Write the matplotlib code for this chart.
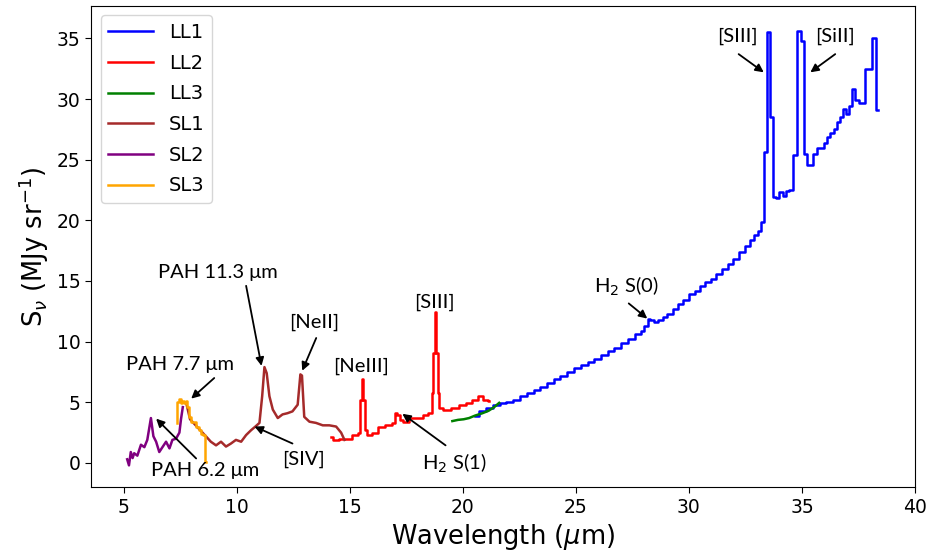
import matplotlib
matplotlib.use('Agg')
import matplotlib.pyplot as plt

# IRS spectrum, one list pair per module (wavelength in um, S_nu in MJy/sr)
sl2_wave = [5.16, 5.24, 5.32, 5.40, 5.47, 5.61, 5.77, 5.92, 6.05, 6.21, 6.32, 6.44, 6.58, 6.72,
            6.88, 7.03, 7.16, 7.32, 7.47, 7.54, 7.62]
sl2_flux = [0.3, -0.2, 0.9, 0.4, 0.8, 0.6, 1.5, 1.3, 1.9, 3.7, 2.2, 1.75, 0.9, 1.3,
            1.75, 1.2, 1.9, 2.0, 2.5, 3.6, 4.6]

sl3_wave = [7.37, 7.40, 7.49, 7.56, 7.64, 7.72, 7.79, 7.86, 7.94, 8.04, 8.14, 8.27, 8.39, 8.49,
            8.58, 8.64]
sl3_flux = [3.3, 5.0, 5.3, 4.9, 5.1, 4.9, 5.1, 4.6, 3.8, 3.4, 3.4, 3.0, 2.7, 2.4, 2.3, 0.1]

sl1_wave = [7.79, 7.94, 8.09, 8.24, 8.39, 8.54, 8.69, 8.86, 9.09, 9.31, 9.53, 9.75, 9.97, 10.2,
            10.42, 10.64, 10.83, 11.01, 11.13, 11.23, 11.33, 11.45, 11.6, 11.82, 12.03, 12.25,
            12.47, 12.7, 12.82, 12.89, 12.99, 13.22, 13.51, 13.81, 14.1, 14.4, 14.62, 14.77]
sl1_flux = [4.8, 3.6, 3.3, 3.0, 2.7, 2.4, 2.1, 1.75, 1.45, 1.75, 1.35, 1.6, 1.9, 1.75,
            2.3, 2.7, 3.0, 3.3, 5.5, 7.9, 7.4, 5.5, 4.4, 3.7, 4.0, 4.1,
            4.25, 4.8, 7.3, 7.2, 3.8, 3.4, 3.3, 3.1, 3.1, 3.0, 2.5, 1.9]

ll2_wave = [14.17, 14.39, 14.68, 14.98, 15.26, 15.44, 15.51, 15.56, 15.63, 15.71, 15.86, 16.15,
            16.37, 16.74, 16.96, 17.04, 17.18, 17.26, 17.48, 17.77, 18.07, 18.37, 18.59, 18.65,
            18.73, 18.8, 18.87, 18.92, 18.98, 19.24, 19.69, 19.98, 20.28, 20.57, 20.8, 21.02, 21.17]
ll2_flux = [2.1, 1.9, 2.0, 2.0, 2.3, 2.45, 5.2, 6.9, 5.2, 2.7, 2.3, 2.45,
            3.0, 3.15, 3.3, 4.1, 3.95, 3.55, 3.4, 3.7, 3.7, 3.95, 4.1, 5.8,
            9.1, 12.45, 9.1, 5.8, 4.5, 4.4, 4.5, 4.8, 4.95, 5.2, 5.5, 5.2, 5.1]

ll3_wave = [19.54, 19.79, 20.04, 20.28, 20.54, 20.87, 21.14, 21.39, 21.61]
ll3_flux = [3.45, 3.55, 3.6, 3.7, 3.9, 4.1, 4.3, 4.6, 4.95]

ll1_wave = [20.54, 20.89, 21.19, 21.48, 21.78, 22.08, 22.38, 22.68, 22.98, 23.28, 23.58, 23.87,
            24.17, 24.47, 24.77, 25.07, 25.37, 25.67, 25.97, 26.26, 26.56, 26.86, 27.16, 27.46,
            27.76, 27.96, 28.11, 28.23, 28.36, 28.56, 28.75, 28.95, 29.15, 29.4, 29.65, 29.85,
            30.15, 30.35, 30.6, 30.85, 31.1, 31.34, 31.59, 31.84, 32.09, 32.34, 32.59, 32.79,
            32.99, 33.14, 33.26, 33.38, 33.52, 33.66, 33.79, 33.93, 34.07, 34.21, 34.35, 34.49,
            34.68, 34.9, 35.02, 35.13, 35.28, 35.43, 35.58, 35.73, 35.88, 36.03, 36.18, 36.33,
            36.48, 36.63, 36.75, 36.87, 37.01, 37.15, 37.29, 37.43, 37.57, 37.71, 37.83, 37.98,
            38.18, 38.35]
ll1_flux = [3.9, 4.3, 4.5, 4.8, 4.95, 5.0, 5.2, 5.5, 5.8, 6.05, 6.3, 6.6,
            6.9, 7.2, 7.5, 7.8, 8.1, 8.35, 8.6, 8.9, 9.2, 9.5, 9.85, 10.2,
            10.6, 10.9, 11.3, 11.9, 11.75, 11.6, 11.8, 12.05, 12.3, 12.7, 13.1, 13.45,
            13.9, 14.2, 14.55, 14.95, 15.2, 15.6, 16.0, 16.4, 16.85, 17.35, 17.9, 18.4,
            18.8, 19.1, 19.9, 25.6, 35.5, 28.5, 21.9, 21.8, 22.3, 22.0, 22.4, 22.5,
            25.4, 35.6, 34.8, 25.5, 24.6, 24.6, 25.5, 26.0, 26.0, 26.4, 26.9, 27.2,
            27.5, 28.1, 28.5, 29.2, 28.8, 29.4, 30.8, 29.9, 29.7, 29.7, 32.5, 32.5,
            35.0, 29.1]

modules = ['LL1', 'LL2', 'LL3', 'SL1', 'SL2', 'SL3']
colors = ['blue', 'red', 'green', 'brown', 'purple', 'orange']
spectra = [(ll1_wave, ll1_flux), (ll2_wave, ll2_flux), (ll3_wave, ll3_flux),
           (sl1_wave, sl1_flux), (sl2_wave, sl2_flux), (sl3_wave, sl3_flux)]
# the long-low orders are drawn as binned steps, short-low as plain lines
styles = ['steps-mid', 'steps-mid', 'default', 'default', 'default', 'steps-mid']

# line labels: text, text position, arrow tail, arrow head (None = no arrow)
lines = [
    ('PAH 11.3 μm', (9.19, 15.7), (10.42, 14.6), (11.1, 8.0)),
    ('[NeII]', (13.44, 11.6), (13.52, 10.3), (12.9, 7.6)),
    ('PAH 7.7 μm', (7.51, 8.1), (9.01, 7.0), (7.99, 5.3)),
    ('PAH 6.2 μm', (8.6, -0.6), (8.21, 0.37), (6.44, 3.65)),
    ('[SIV]', (12.95, 0.3), (12.47, 1.6), (10.79, 3.0)),
    ('[NeIII]', (15.5, 8.0), None, None),
    ('[SIII]', (18.73, 13.2), None, None),
    (r'H$_2$ S(1)', (19.62, 0.0), (19.24, 1.45), (17.33, 4.05)),
    (r'H$_2$ S(0)', (27.23, 14.55), (27.34, 13.15), (28.16, 11.9)),
    ('[SIII]', (32.16, 35.2), (32.2, 33.7), (33.31, 32.2)),
    ('[SiII]', (36.47, 35.2), (36.47, 33.7), (35.37, 32.2)),
]

fig, ax = plt.subplots(figsize=(9.38, 5.6), dpi=100)
fig.subplots_adjust(left=0.097, right=0.976, top=0.99, bottom=0.13)

for name, c, (w, f), ds in zip(modules, colors, spectra, styles):
    ax.plot(w, f, color=c, lw=1.8, label=name, drawstyle=ds)

label_font = ['Lato', 'DejaVu Sans']
for text, pos, tail, head in lines:
    ax.text(pos[0], pos[1], text, ha='center', va='center', fontsize=14.5, family=label_font)
    if head is not None:
        ax.annotate('', xy=head, xytext=tail,
                    arrowprops=dict(arrowstyle='-|>', color='black', lw=1.3,
                                    mutation_scale=12, shrinkA=0, shrinkB=0))

ax.set_xlim(3.56, 40.02)
ax.set_ylim(-2.0, 37.7)
ax.set_xticks([5, 10, 15, 20, 25, 30, 35, 40])
ax.set_yticks([0, 5, 10, 15, 20, 25, 30, 35])
ax.tick_params(labelsize=13.5, length=4)
ax.set_xlabel(r'Wavelength ($\mu$m)', fontsize=18.5)
ax.set_ylabel(r'S$_\nu$ (MJy sr$^{-1}$)', fontsize=18.5)

ax.legend(loc='upper left', fontsize=14, handlelength=2.3, labelspacing=0.6)

plt.savefig('out.png', dpi=100)
